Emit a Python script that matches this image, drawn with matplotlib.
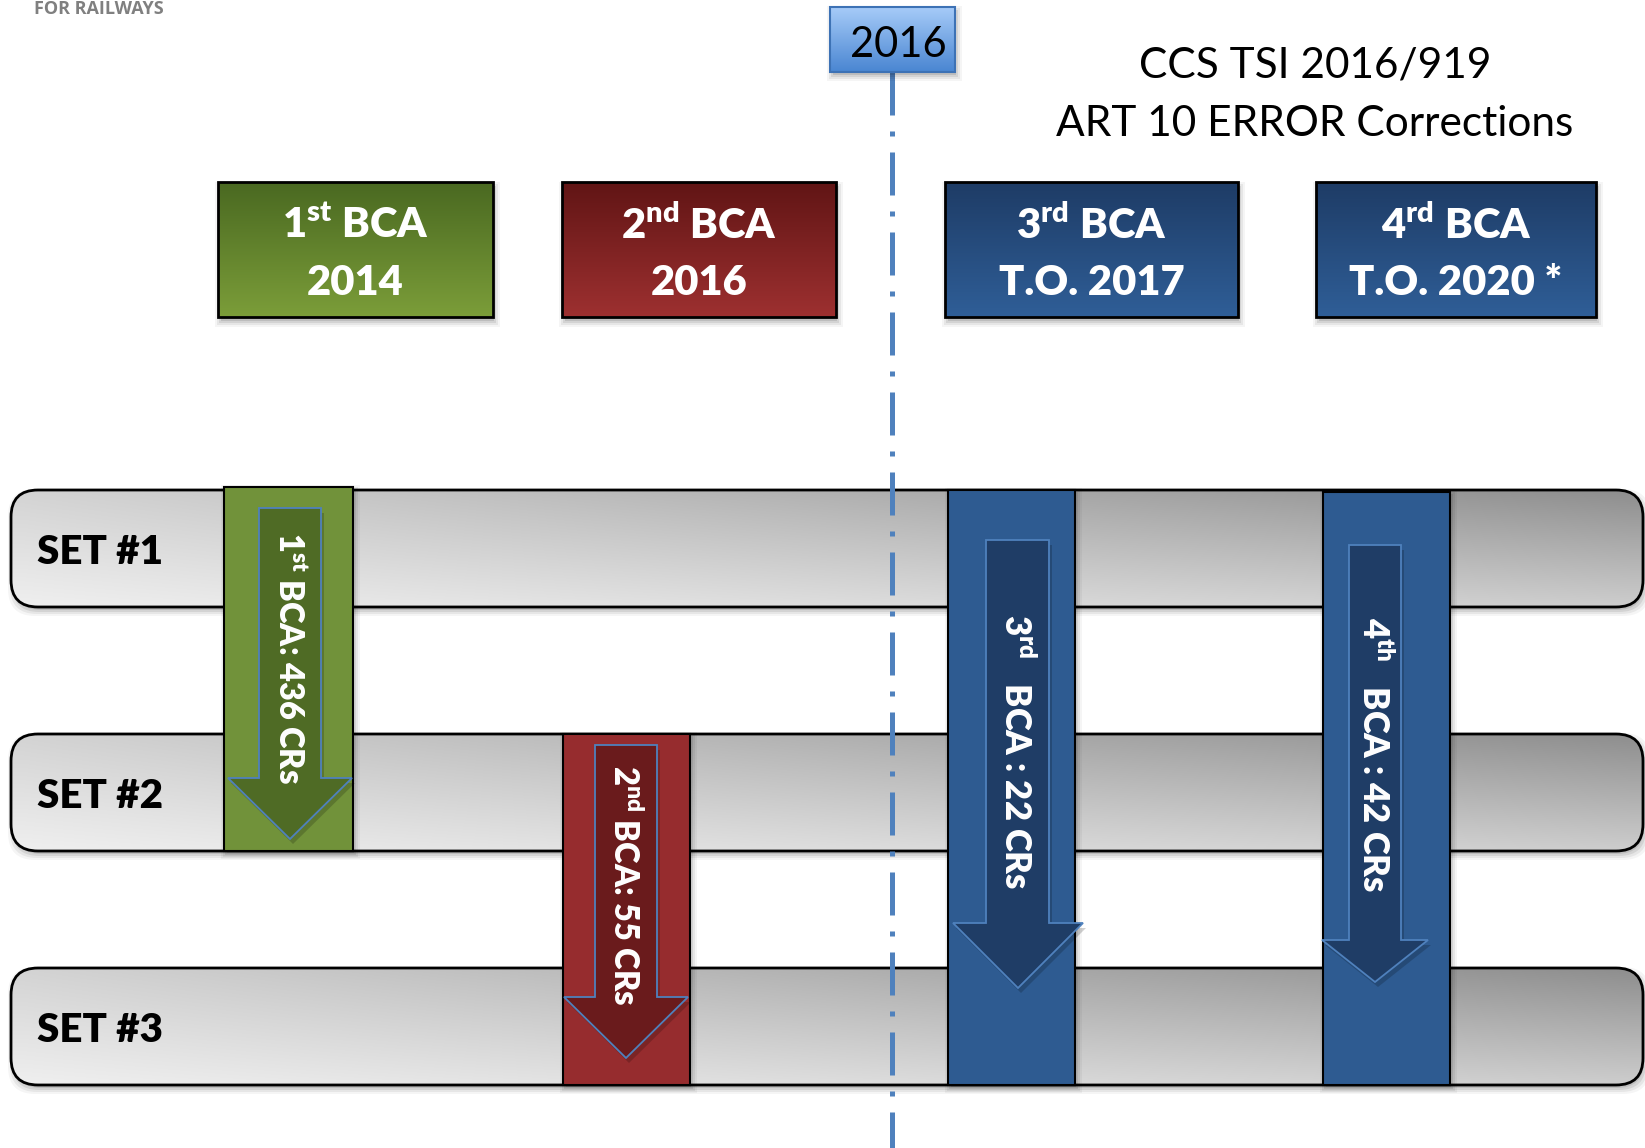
import numpy as np
import matplotlib
matplotlib.use("Agg")
import matplotlib.pyplot as plt
from matplotlib.patches import FancyBboxPatch, Polygon
from matplotlib.colors import to_rgb

plt.rcParams['mathtext.fontset'] = 'custom'
FONT = 'Lato'

# ---------------- data ----------------
set_labels = ["SET #1", "SET #2", "SET #3"]
bca_ordinals = ["1", "2", "3", "4"]
bca_title_suffix = ["st", "nd", "rd", "rd"]      # as written on the top boxes
bca_arrow_suffix = ["st", "nd", "rd", "th"]      # as written in the arrows
bca_dates = ["2014", "2016", "T.O. 2017", "T.O. 2020 *"]
cr_counts = [436, 55, 22, 42]
first_set = [1, 2, 1, 1]
last_set = [2, 3, 3, 3]
marker_year = "2016"
title_lines = ["CCS TSI 2016/919", "ART 10 ERROR Corrections"]
header_text = "FOR RAILWAYS"

# ---------------- layout / style ----------------
W, H = 1645, 1148
set_rows = [(490, 607), (734, 851), (968, 1085)]
set_x = (11, 1643)
box_x = [(218, 493), (562, 836), (945, 1238), (1316, 1596)]
box_y = (182, 317)
col_x = [(224, 353), (563, 690), (948, 1075), (1323, 1450)]
col_top_off = [-3, 0, 0, 2]
# arrow geometry: shaft x0, shaft x1, top, head y, head x0, head x1, tip y
arrow_geo = [(259, 321, 508, 778, 228, 352, 839),
             (595, 657, 745, 997, 564, 688, 1058),
             (986, 1049, 540, 923, 953, 1083, 988),
             (1349, 1401, 545, 940, 1322, 1428, 982)]
arrow_text_y = [658, 885, 752, 755]
arrow_text_size = [23.5, 23.5, 25, 25]
sup_gap = ["", "", "  ", "  "]
colon_gap = ["", "", " ", " "]
box_top = ['#4a6921', '#611515', '#1e3c66', '#1e3c66']
box_bot = ['#7b9d39', '#9d3030', '#2f5e97', '#2f5e97']
col_fill = ['#71923a', '#962c2e', '#2e5b91', '#2e5b91']
arrow_fill = ['#4f6b25', '#6a1b1c', '#1f3d66', '#1f3d66']
line_x = 892
BOLD = 'heavy'

fig = plt.figure(figsize=(W / 100, H / 100), dpi=100)
ax = fig.add_axes([0, 0, 1, 1])
ax.set_xlim(0, W)
ax.set_ylim(H, 0)
ax.axis('off')


def grad_patch(x0, y0, x1, y1, tl, tr, bl, br, z, r=0.0, ec='black', lw=2.0):
    style = f"round,pad=0,rounding_size={r}" if r > 0 else "square,pad=0"
    p = FancyBboxPatch((x0, y0), x1 - x0, y1 - y0, boxstyle=style,
                       facecolor='none', edgecolor=ec, linewidth=lw, zorder=z + 0.1)
    ax.add_patch(p)
    n = 64
    u = np.linspace(0, 1, n)[None, :, None]
    v = np.linspace(0, 1, n)[:, None, None]
    TL, TR, BL, BR = [np.array(to_rgb(c)) for c in (tl, tr, bl, br)]
    img = (1 - u) * (1 - v) * TL + u * (1 - v) * TR + (1 - u) * v * BL + u * v * BR
    im = ax.imshow(img, extent=(x0, x1, y1, y0), origin='upper', aspect='auto',
                   zorder=z, interpolation='bilinear')
    im.set_clip_path(p)
    return p


def shadow(x0, y0, x1, y1, z, r=0.0, dx=2, dy=5):
    style = f"round,pad=0,rounding_size={r}" if r > 0 else "square,pad=0"
    for g, a in [(5, 0.04), (3, 0.06), (1, 0.08), (-1, 0.10)]:
        p = FancyBboxPatch((x0 + dx - g, y0 + dy - g), x1 - x0 + 2 * g, y1 - y0 + 2 * g,
                           boxstyle=style, facecolor='black', edgecolor='none',
                           alpha=a, zorder=z)
        ax.add_patch(p)


# header
ax.text(34, 14, header_text, fontsize=13, fontweight='bold', color='#808080',
        family='Open Sans', ha='left', va='baseline', zorder=5)

# title
ax.text(1315, 66, title_lines[0], fontsize=30.5, family=FONT, ha='center', va='center', color='black')
ax.text(1315, 124, title_lines[1], fontsize=30.5, family=FONT, ha='center', va='center', color='black')

# set bars
for (y0, y1), lab in zip(set_rows, set_labels):
    shadow(set_x[0], y0, set_x[1], y1, 1, r=27, dx=2, dy=4)
    grad_patch(set_x[0], y0, set_x[1], y1, '#d3d3d3', '#8e8e8e', '#efefef', '#cdcdcd',
               2, r=27, lw=2.0)
    ax.text(37, (y0 + y1) / 2 + 4, lab, fontsize=29, fontweight=BOLD, family=FONT,
            ha='left', va='center', color='black', zorder=4)

# dashed timeline
ax.plot([line_x, line_x], [72, H], color='#4f81bd', linewidth=3.6,
        linestyle=(0, (8.6, 3.2, 1.0, 3.2)), solid_capstyle='butt',
        dash_capstyle='butt', zorder=3)

# marker box
shadow(830, 7, 955, 72, 5, dx=2, dy=4)
grad_patch(830, 7, 955, 72, '#a6cbf8', '#a6cbf8', '#4a86d2', '#4a86d2', 6,
           ec='#3d72b5', lw=1.5)
ax.text(898, 45, marker_year, fontsize=30, family=FONT, ha='center', va='center',
        color='black', zorder=7)

# top BCA boxes
for i in range(4):
    x0, x1 = box_x[i]
    y0, y1 = box_y
    shadow(x0, y0, x1, y1, 5, dx=2, dy=5)
    grad_patch(x0, y0, x1, y1, box_top[i], box_top[i], box_bot[i], box_bot[i], 6, lw=2.0)
    cx = (x0 + x1) / 2
    ax.text(cx, 225, rf"{bca_ordinals[i]}$^{{\mathregular{{{bca_title_suffix[i]}}}}}$ BCA",
            fontsize=30, fontweight=BOLD, family=FONT, color='white',
            ha='center', va='center', zorder=8)
    ax.text(cx, 283, bca_dates[i], fontsize=30, fontweight=BOLD, family=FONT,
            color='white', ha='center', va='center', zorder=8)

# columns and arrows
for i in range(4):
    x0, x1 = col_x[i]
    y0 = set_rows[first_set[i] - 1][0] + col_top_off[i]
    y1 = set_rows[last_set[i] - 1][1]
    shadow(x0, y0, x1, y1, 9, dx=2, dy=3)
    c = FancyBboxPatch((x0, y0), x1 - x0, y1 - y0, boxstyle="square,pad=0",
                       facecolor=col_fill[i], edgecolor='black', linewidth=1.5, zorder=10)
    ax.add_patch(c)
    sx0, sx1, top, hy, hx0, hx1, tip = arrow_geo[i]
    tx = (hx0 + hx1) / 2
    pts = [(sx0, top), (sx1, top), (sx1, hy), (hx1, hy), (tx, tip), (hx0, hy), (sx0, hy)]
    sh = Polygon([(x + 3, y + 5) for x, y in pts], closed=True, facecolor='black',
                 edgecolor='none', alpha=0.18, zorder=11)
    ax.add_patch(sh)
    a = Polygon(pts, closed=True, facecolor=arrow_fill[i], edgecolor='#4f81bd',
                linewidth=1.3, zorder=12, joinstyle='miter')
    ax.add_patch(a)
    label = (rf"{bca_ordinals[i]}$^{{\mathregular{{{bca_arrow_suffix[i]}}}}}${sup_gap[i]} "
             rf"BCA{colon_gap[i]}: {cr_counts[i]} CRs")
    ax.text((sx0 + sx1) / 2 - 1, arrow_text_y[i], label, rotation=-90,
            fontsize=arrow_text_size[i], fontweight=BOLD, family=FONT, color='white',
            ha='center', va='center', zorder=13)

fig.savefig('out.png', dpi=100)
